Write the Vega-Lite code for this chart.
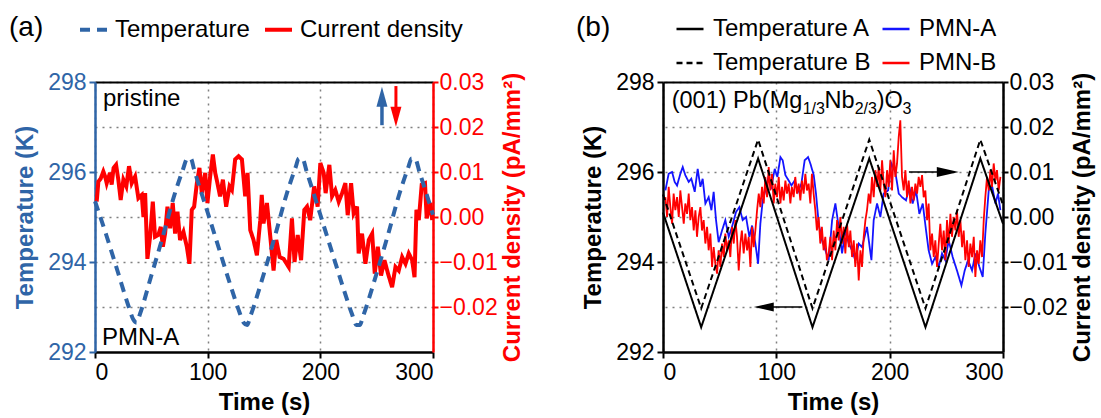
{
  "$schema": "https://vega.github.io/schema/vega-lite/v6.json",
  "padding": {"left": 9, "top": 14, "right": 4, "bottom": 2},
  "autosize": {"type": "pad"},
  "config": {
    "font": "Liberation Sans",
    "view": {"stroke": null},
    "axis": {"labelFontSize": 23, "titleFontSize": 24, "titleFontWeight": "bold", "labelColor": "black", "titleColor": "black", "domainColor": "black", "tickColor": "black", "domainWidth": 2.5, "tickWidth": 2, "tickSize": 6, "labelPadding": 3, "grid": false, "gridColor": "#808080", "gridDash": [2, 5], "gridWidth": 1.5},
    "legend": {"labelFontSize": 24, "labelColor": "black", "titleFontSize": 28, "titleFontWeight": "normal", "titleColor": "black", "labelLimit": 400}
  },
  "spacing": 51,
  "resolve": {"scale": {"color": "independent", "strokeDash": "independent"}, "legend": {"color": "independent", "strokeDash": "independent"}},
  "datasets": {
    "curA": [{"t":1.5,"c":0.0034},{"t":3,"c":0.0079},{"t":5,"c":0.0085},{"t":7.4,"c":0.0101},{"t":9,"c":0.009},{"t":10.4,"c":0.0075},{"t":12,"c":0.0088},{"t":13.3,"c":0.0098},{"t":14.8,"c":0.0072},{"t":16.5,"c":0.0109},{"t":18.7,"c":0.0116},{"t":20.7,"c":0.0083},{"t":22.8,"c":0.0038},{"t":25.2,"c":0.0083},{"t":27.8,"c":0.0068},{"t":30.2,"c":0.0113},{"t":32.6,"c":0.0075},{"t":35.6,"c":0.009},{"t":38.5,"c":0.0042},{"t":41.5,"c":0.0049},{"t":43,"c":0.0},{"t":44.5,"c":0.0053},{"t":46.5,"c":-0.0093},{"t":48.9,"c":-0.0044},{"t":51.3,"c":0.0034},{"t":53.3,"c":-0.0044},{"t":56.2,"c":-0.004},{"t":58.4,"c":-0.0022},{"t":60.2,"c":-0.0066},{"t":62.2,"c":-0.0037},{"t":64.3,"c":0.0023},{"t":66.7,"c":-0.0025},{"t":69,"c":0.0031},{"t":71.1,"c":-0.0037},{"t":73.2,"c":0.0012},{"t":75.5,"c":-0.0051},{"t":78.5,"c":-0.0033},{"t":81.5,"c":-0.0066},{"t":83.8,"c":-0.0104},{"t":85.9,"c":0.0016},{"t":88,"c":0.0023},{"t":90.4,"c":0.0075},{"t":92.7,"c":0.0109},{"t":94.8,"c":0.0053},{"t":97.8,"c":0.0098},{"t":99.8,"c":0.0031},{"t":102.2,"c":0.009},{"t":104.6,"c":0.0139},{"t":106.7,"c":0.0098},{"t":108.7,"c":0.0075},{"t":111,"c":0.0046},{"t":113.5,"c":0.0083},{"t":116.4,"c":0.0023},{"t":119.4,"c":0.0068},{"t":121.5,"c":0.006},{"t":124.4,"c":0.0128},{"t":127.4,"c":0.0135},{"t":130.4,"c":0.0128},{"t":133.3,"c":0.0046},{"t":135.4,"c":0.0098},{"t":137.8,"c":-0.0029},{"t":140.7,"c":-0.0051},{"t":143.7,"c":-0.0085},{"t":146.7,"c":-0.0007},{"t":148,"c":0.0049},{"t":149.6,"c":-0.0014},{"t":152.6,"c":0.0031},{"t":155,"c":-0.0029},{"t":158.5,"c":-0.0119},{"t":160.9,"c":-0.0051},{"t":163.9,"c":-0.0089},{"t":167.4,"c":-0.0093},{"t":171.9,"c":-0.0111},{"t":174.8,"c":-0.0003},{"t":177.1,"c":-0.01},{"t":179.9,"c":-0.004},{"t":182.9,"c":-0.0096},{"t":185.8,"c":0.0016},{"t":188.2,"c":0.0023},{"t":191,"c":-0.0007},{"t":194.5,"c":0.0068},{"t":197.6,"c":0.0023},{"t":200,"c":0.012},{"t":203,"c":0.0098},{"t":204.7,"c":0.0053},{"t":208,"c":0.0116},{"t":210.4,"c":0.0046},{"t":213.3,"c":0.006},{"t":216.3,"c":0.0034},{"t":219.3,"c":0.0053},{"t":222.2,"c":0.0075},{"t":224.3,"c":0.0004},{"t":227.3,"c":0.0075},{"t":229.6,"c":0.0008},{"t":232.6,"c":0.0023},{"t":234,"c":-0.0081},{"t":237,"c":-0.0037},{"t":240,"c":-0.0104},{"t":243,"c":-0.0051},{"t":246,"c":-0.0037},{"t":248.3,"c":-0.0126},{"t":251,"c":-0.0066},{"t":253.9,"c":-0.013},{"t":256.9,"c":-0.0096},{"t":260.1,"c":-0.0126},{"t":263.7,"c":-0.0156},{"t":266.7,"c":-0.0111},{"t":269.6,"c":-0.0119},{"t":272.6,"c":-0.0089},{"t":275.6,"c":-0.0104},{"t":278.5,"c":-0.0081},{"t":281.5,"c":-0.0096},{"t":283.6,"c":-0.0134},{"t":285.3,"c":0.0016},{"t":287.4,"c":-0.0007},{"t":290,"c":0.0072},{"t":292.9,"c":0.0075},{"t":294.4,"c":-0.0003},{"t":297.8,"c":0.0031},{"t":299.3,"c":-0.0007}],
    "tempA": [{"t":0,"T":295.35},{"t":10,"T":294.6},{"t":20,"T":293.8},{"t":30,"T":293.0},{"t":34,"T":292.72},{"t":37,"T":292.65},{"t":40,"T":292.85},{"t":50,"T":293.7},{"t":60,"T":294.55},{"t":70,"T":295.45},{"t":78,"T":296.05},{"t":82,"T":296.3},{"t":85,"T":296.3},{"t":88,"T":296.05},{"t":100,"T":295.1},{"t":110,"T":294.3},{"t":120,"T":293.5},{"t":128,"T":292.9},{"t":132,"T":292.65},{"t":135,"T":292.6},{"t":138,"T":292.8},{"t":150,"T":293.75},{"t":160,"T":294.6},{"t":170,"T":295.5},{"t":178,"T":296.1},{"t":181,"T":296.3},{"t":184,"T":296.3},{"t":188,"T":296.0},{"t":200,"T":295.05},{"t":210,"T":294.25},{"t":220,"T":293.45},{"t":228,"T":292.85},{"t":232,"T":292.6},{"t":235,"T":292.6},{"t":238,"T":292.8},{"t":250,"T":293.75},{"t":260,"T":294.6},{"t":270,"T":295.5},{"t":278,"T":296.1},{"t":281,"T":296.3},{"t":284,"T":296.3},{"t":288,"T":296.0},{"t":300,"T":295.05}],
    "tempBA": [{"t":0,"T":295.1},{"t":33.7,"T":292.55},{"t":83.9,"T":296.3},{"t":131.9,"T":292.55},{"t":182,"T":296.3},{"t":231.6,"T":292.55},{"t":280,"T":296.3},{"t":300,"T":294.85}],
    "tempBB": [{"t":0,"T":295.5},{"t":33.7,"T":292.97},{"t":83.9,"T":296.72},{"t":131.9,"T":292.97},{"t":182,"T":296.72},{"t":231.6,"T":292.97},{"t":280,"T":296.72},{"t":300,"T":295.27}],
    "blueB": [{"t":2.1,"c":0.0059},{"t":5,"c":0.0096},{"t":8,"c":0.01},{"t":10.3,"c":0.0078},{"t":12.4,"c":0.007},{"t":15.3,"c":0.0096},{"t":17.4,"c":0.0111},{"t":19.7,"c":0.0093},{"t":22.7,"c":0.0078},{"t":25,"c":0.0085},{"t":28,"c":0.0056},{"t":30.6,"c":0.0107},{"t":33,"c":0.0067},{"t":35,"c":0.0085},{"t":37.4,"c":0.003},{"t":40.3,"c":0.0044},{"t":42.7,"c":0.0015},{"t":44.7,"c":0.0056},{"t":46.8,"c":-0.0007},{"t":49.1,"c":-0.0056},{"t":52.1,"c":-0.003},{"t":55,"c":-0.0007},{"t":58,"c":-0.0044},{"t":60.9,"c":-0.0022},{"t":64.4,"c":0.0011},{"t":67.4,"c":0.0022},{"t":70.3,"c":-0.0007},{"t":73.3,"c":0.0},{"t":76.2,"c":-0.0044},{"t":78.6,"c":-0.0019},{"t":81.5,"c":-0.0059},{"t":83.9,"c":-0.0104},{"t":85.9,"c":-0.0015},{"t":88,"c":0.0037},{"t":90.3,"c":0.0059},{"t":92.7,"c":0.0085},{"t":95.6,"c":0.0067},{"t":98.6,"c":0.0107},{"t":100.9,"c":0.0089},{"t":103.6,"c":0.0133},{"t":105.6,"c":0.0126},{"t":108,"c":0.0093},{"t":110.9,"c":0.0081},{"t":113.3,"c":0.007},{"t":116.2,"c":0.0081},{"t":119.1,"c":0.0056},{"t":122.1,"c":0.0074},{"t":125,"c":0.0126},{"t":128,"c":0.0133},{"t":130,"c":0.0119},{"t":133,"c":0.0093},{"t":135,"c":0.0052},{"t":137.4,"c":-0.0015},{"t":140.3,"c":-0.0052},{"t":143.3,"c":-0.0074},{"t":146.2,"c":-0.0096},{"t":149.2,"c":-0.0007},{"t":152.1,"c":0.003},{"t":155,"c":-0.0022},{"t":158,"c":-0.0081},{"t":160.9,"c":-0.003},{"t":163.9,"c":-0.0059},{"t":166.8,"c":-0.0074},{"t":169.7,"c":-0.0096},{"t":172.7,"c":-0.0059},{"t":175.6,"c":-0.0067},{"t":180,"c":-0.0022},{"t":183.9,"c":-0.0096},{"t":185.9,"c":-0.0007},{"t":188.9,"c":0.003},{"t":191.8,"c":0.0},{"t":194.7,"c":0.0052},{"t":198.6,"c":0.0059},{"t":201.5,"c":0.0119},{"t":205,"c":0.01},{"t":208,"c":0.0052},{"t":210.9,"c":0.0044},{"t":214.4,"c":0.0037},{"t":217.4,"c":0.0067},{"t":220.3,"c":0.003},{"t":223.3,"c":0.0059},{"t":226.2,"c":0.0007},{"t":229.2,"c":0.003},{"t":232.1,"c":-0.003},{"t":234.4,"c":-0.0074},{"t":237.4,"c":-0.0104},{"t":240.3,"c":-0.0089},{"t":243.3,"c":-0.0111},{"t":246.2,"c":-0.0081},{"t":249.1,"c":-0.0096},{"t":252.1,"c":-0.0052},{"t":255.6,"c":-0.0089},{"t":259.4,"c":-0.0119},{"t":263.3,"c":-0.0152},{"t":266.2,"c":-0.0119},{"t":269.2,"c":-0.0096},{"t":272.7,"c":-0.0119},{"t":275.6,"c":-0.0081},{"t":279.2,"c":-0.0111},{"t":282.1,"c":-0.0133},{"t":284.4,"c":-0.0037},{"t":287.4,"c":0.0059},{"t":290.3,"c":0.007},{"t":293.3,"c":0.003},{"t":295.6,"c":0.0052},{"t":297.7,"c":0.0015}],
    "redB": [{"t":2.1,"c":0.0044},{"t":3.6,"c":0.0},{"t":5,"c":0.0067},{"t":6.5,"c":0.0022},{"t":8,"c":-0.0015},{"t":9.4,"c":0.0052},{"t":10.9,"c":0.0015},{"t":12.4,"c":0.0044},{"t":13.9,"c":0.0},{"t":15.3,"c":0.0059},{"t":16.8,"c":0.0022},{"t":18.3,"c":-0.0015},{"t":19.7,"c":0.003},{"t":21.2,"c":0.0007},{"t":22.7,"c":0.0052},{"t":24.1,"c":-0.0007},{"t":25.6,"c":0.0022},{"t":27.1,"c":-0.003},{"t":28.6,"c":0.0015},{"t":30,"c":-0.0044},{"t":31.5,"c":0.0},{"t":33,"c":0.0022},{"t":34.4,"c":-0.003},{"t":35.9,"c":-0.0007},{"t":37.4,"c":-0.0059},{"t":38.9,"c":-0.0022},{"t":40.3,"c":-0.0074},{"t":41.8,"c":-0.0037},{"t":43.3,"c":-0.0111},{"t":44.7,"c":-0.0067},{"t":46.2,"c":-0.0104},{"t":47.7,"c":-0.0126},{"t":49.1,"c":-0.0074},{"t":50.6,"c":-0.0111},{"t":52.1,"c":-0.0059},{"t":53.6,"c":-0.0089},{"t":55,"c":-0.0037},{"t":56.5,"c":-0.0074},{"t":58,"c":-0.0052},{"t":59.4,"c":-0.0089},{"t":60.9,"c":-0.0022},{"t":62.4,"c":-0.0059},{"t":63.9,"c":-0.0007},{"t":65.3,"c":-0.0044},{"t":66.8,"c":-0.0119},{"t":68.3,"c":-0.0059},{"t":69.6,"c":-0.003},{"t":71.2,"c":-0.0081},{"t":72.7,"c":-0.0037},{"t":74.2,"c":-0.0074},{"t":75.6,"c":-0.0044},{"t":77.1,"c":-0.0111},{"t":78.6,"c":-0.0022},{"t":80,"c":-0.0067},{"t":81.5,"c":-0.003},{"t":83,"c":0.0015},{"t":84.5,"c":0.0052},{"t":85.9,"c":0.0022},{"t":87.4,"c":0.0067},{"t":88.9,"c":0.003},{"t":90.3,"c":0.0089},{"t":91.8,"c":0.0044},{"t":93.3,"c":0.0111},{"t":94.7,"c":0.0059},{"t":96.2,"c":0.0096},{"t":97.7,"c":0.003},{"t":99.1,"c":0.0074},{"t":100.6,"c":0.0044},{"t":102.1,"c":0.0089},{"t":103.6,"c":0.003},{"t":105,"c":0.0067},{"t":106.5,"c":0.0037},{"t":108,"c":0.0081},{"t":109.4,"c":0.0052},{"t":110.9,"c":0.0074},{"t":112.4,"c":0.003},{"t":113.7,"c":0.0067},{"t":115.3,"c":0.0044},{"t":116.7,"c":0.0089},{"t":118.2,"c":0.0052},{"t":119.7,"c":0.0074},{"t":121.2,"c":0.0037},{"t":122.6,"c":0.0081},{"t":124.1,"c":0.0052},{"t":125.6,"c":0.0096},{"t":127,"c":0.0059},{"t":128.5,"c":0.0074},{"t":130,"c":0.003},{"t":131.4,"c":0.0096},{"t":132.9,"c":0.0052},{"t":134.4,"c":0.0015},{"t":135.8,"c":-0.003},{"t":137.3,"c":0.0},{"t":138.8,"c":-0.0059},{"t":140.2,"c":-0.0022},{"t":141.7,"c":-0.0074},{"t":143.2,"c":-0.0044},{"t":144.6,"c":-0.0096},{"t":146.2,"c":-0.0081},{"t":147.7,"c":-0.0044},{"t":149.2,"c":-0.0096},{"t":150.6,"c":-0.003},{"t":152.1,"c":-0.0074},{"t":153.6,"c":-0.0007},{"t":155,"c":-0.0052},{"t":156.5,"c":0.0},{"t":158,"c":-0.0059},{"t":159.4,"c":-0.0022},{"t":160.9,"c":-0.0081},{"t":162.4,"c":-0.0015},{"t":163.9,"c":-0.0067},{"t":165.3,"c":-0.003},{"t":166.8,"c":-0.0089},{"t":168.3,"c":-0.0052},{"t":169.7,"c":-0.0111},{"t":171.2,"c":-0.0059},{"t":172.7,"c":-0.0141},{"t":174.2,"c":-0.0074},{"t":175.6,"c":-0.0111},{"t":177.1,"c":-0.0044},{"t":178.6,"c":-0.0007},{"t":180,"c":0.0015},{"t":181.5,"c":0.0052},{"t":183,"c":0.003},{"t":184.4,"c":0.0089},{"t":185.9,"c":0.0044},{"t":187.4,"c":0.0104},{"t":188.9,"c":0.0067},{"t":190.3,"c":0.0111},{"t":191.8,"c":0.0059},{"t":193.3,"c":0.0126},{"t":194.7,"c":0.0074},{"t":196.2,"c":0.0044},{"t":197.7,"c":0.0104},{"t":199.1,"c":0.0067},{"t":200.6,"c":0.0126},{"t":202.1,"c":0.0059},{"t":203.6,"c":0.0148},{"t":205,"c":0.0089},{"t":206.5,"c":0.0119},{"t":208,"c":0.0178},{"t":209.4,"c":0.0215},{"t":210.9,"c":0.0089},{"t":212.4,"c":0.0059},{"t":213.9,"c":0.0104},{"t":215.3,"c":0.0044},{"t":216.8,"c":0.0081},{"t":218.3,"c":0.003},{"t":219.7,"c":0.0067},{"t":221.2,"c":0.0037},{"t":222.7,"c":0.0074},{"t":224.2,"c":0.0052},{"t":225.6,"c":0.0089},{"t":227.1,"c":0.0067},{"t":228.6,"c":0.0093},{"t":230,"c":0.0044},{"t":231.5,"c":0.0059},{"t":233,"c":-0.0007},{"t":234.4,"c":0.003},{"t":235.9,"c":-0.0074},{"t":237.4,"c":-0.0037},{"t":238.9,"c":-0.0089},{"t":240.3,"c":-0.0052},{"t":241.8,"c":-0.0111},{"t":243.3,"c":-0.0059},{"t":244.7,"c":-0.0015},{"t":246.2,"c":-0.0074},{"t":247.7,"c":-0.003},{"t":249.1,"c":-0.0096},{"t":250.6,"c":-0.0007},{"t":252.1,"c":-0.0059},{"t":253.6,"c":0.0007},{"t":255,"c":-0.0044},{"t":256.5,"c":0.0},{"t":258,"c":-0.003},{"t":259.4,"c":0.0015},{"t":260.9,"c":-0.0044},{"t":262.4,"c":-0.0007},{"t":263.9,"c":-0.0067},{"t":265.3,"c":-0.003},{"t":266.8,"c":-0.0096},{"t":268.3,"c":-0.0052},{"t":269.7,"c":-0.0111},{"t":271.2,"c":-0.0059},{"t":272.7,"c":-0.0089},{"t":274.2,"c":-0.0044},{"t":275.6,"c":-0.0133},{"t":277.1,"c":-0.0074},{"t":278.6,"c":-0.0104},{"t":280,"c":-0.0052},{"t":281.5,"c":-0.0089},{"t":283,"c":-0.0007},{"t":284.4,"c":0.0044},{"t":285.9,"c":0.0089},{"t":287.4,"c":0.0059},{"t":288.9,"c":0.0104},{"t":290.3,"c":0.0067},{"t":291.8,"c":0.0119},{"t":293.3,"c":0.0081},{"t":294.7,"c":0.0104},{"t":296.2,"c":0.0059},{"t":297.7,"c":0.0089}]
  },
  "hconcat": [
    {
      "width": 338,
      "height": 270,
      "resolve": {"scale": {"y": "independent"}, "axis": {"x": "independent"}},
      "layer": [
        {
          "encoding": {
            "x": {"field": "t", "type": "quantitative", "scale": {"domain": [0, 300], "nice": false}, "axis": {"orient": "top", "labels": false, "ticks": false, "title": null, "grid": false, "domainWidth": 2}},
            "y": {"field": "c", "type": "quantitative", "scale": {"domain": [-0.03, 0.03], "nice": false, "zero": false}, "axis": {"orient": "right", "values": [-0.02, -0.01, 0, 0.01, 0.02, 0.03], "format": ".2f", "title": "Current density (pA/mm²)", "titleAngle": 270, "titleBaseline": "top", "titlePadding": 3, "grid": true, "labelColor": "#FF0000", "titleColor": "#FF0000", "domainColor": "#FF0000", "tickColor": "#FF0000", "tickSize": 5, "labelPadding": 1}}
          },
          "layer": [
            {"data": {"name": "curA"}, "mark": {"type": "line", "strokeWidth": 4, "strokeJoin": "miter"},
             "encoding": {
               "color": {"datum": "Current density", "scale": {"domain": ["Temperature", "Current density"], "range": ["#2F65A7", "#FF0000"]}, "legend": {"orient": "none", "legendX": -86, "legendY": -68, "direction": "horizontal", "columns": 2, "title": "(a)", "titleOrient": "left", "titleAnchor": "start", "titlePadding": 34, "symbolType": "stroke", "symbolSize": 729, "symbolStrokeWidth": 4, "labelOffset": 6, "columnPadding": 7}},
               "strokeDash": {"datum": "Current density", "scale": {"domain": ["Temperature", "Current density"], "range": [[10, 7], [1, 0]]}, "legend": {"orient": "none", "legendX": -86, "legendY": -68, "direction": "horizontal", "columns": 2, "title": "(a)", "titleOrient": "left", "titleAnchor": "start", "titlePadding": 34, "symbolType": "stroke", "symbolSize": 729, "symbolStrokeWidth": 4, "labelOffset": 6, "columnPadding": 7}}
             }},
            {"data": {"values": [{"t": 7.1, "c": 0.0247, "label": "pristine"}]}, "mark": {"type": "text", "align": "left", "baseline": "alphabetic", "fontSize": 24, "color": "black"}, "encoding": {"text": {"field": "label"}}},
            {"data": {"values": [{"t": 254.7, "c": 0.0204, "c2": 0.0252}]}, "mark": {"type": "rule", "color": "#2F65A7", "strokeWidth": 3.5}, "encoding": {"y2": {"field": "c2"}}},
            {"data": {"values": [{"t": 254.7, "c": 0.0267}]}, "mark": {"type": "point", "filled": true, "opacity": 1, "color": "#2F65A7", "shape": "M0,-1L0.55,1L-0.55,1Z", "size": 400}},
            {"data": {"values": [{"t": 267.1, "c": 0.0291, "c2": 0.0242}]}, "mark": {"type": "rule", "color": "#FF0000", "strokeWidth": 3}, "encoding": {"y2": {"field": "c2"}}},
            {"data": {"values": [{"t": 267.1, "c": 0.0223}]}, "mark": {"type": "point", "filled": true, "opacity": 1, "color": "#FF0000", "shape": "M0,1L0.55,-1L-0.55,-1Z", "size": 400}}
          ]
        },
        {
          "encoding": {
            "x": {"field": "t", "type": "quantitative", "scale": {"domain": [0, 300], "nice": false}, "axis": {"orient": "bottom", "values": [0, 100, 200, 300], "title": "Time (s)", "grid": true, "titlePadding": 6}},
            "y": {"field": "T", "type": "quantitative", "scale": {"domain": [292, 298], "nice": false, "zero": false}, "axis": {"orient": "left", "values": [292, 294, 296, 298], "title": "Temperature (K)", "titlePadding": 10, "labelColor": "#2F65A7", "titleColor": "#2F65A7", "domainColor": "#2F65A7", "tickColor": "#2F65A7"}}
          },
          "layer": [
            {"data": {"name": "tempA"}, "mark": {"type": "line", "strokeWidth": 4, "interpolate": "monotone"},
             "encoding": {
               "color": {"datum": "Temperature", "scale": {"domain": ["Temperature", "Current density"], "range": ["#2F65A7", "#FF0000"]}},
               "strokeDash": {"datum": "Temperature", "scale": {"domain": ["Temperature", "Current density"], "range": [[10, 7], [1, 0]]}}
             }},
            {"data": {"values": [{"t": 6.2, "T": 292.16, "label": "PMN-A"}]}, "mark": {"type": "text", "align": "left", "baseline": "alphabetic", "fontSize": 24, "color": "black"}, "encoding": {"text": {"field": "label"}}}
          ]
        }
      ]
    },
    {
      "width": 340,
      "height": 270,
      "resolve": {"scale": {"y": "independent"}, "axis": {"x": "independent"}},
      "layer": [
        {
          "encoding": {
            "x": {"field": "t", "type": "quantitative", "scale": {"domain": [0, 300], "nice": false}, "axis": {"orient": "top", "labels": false, "ticks": false, "title": null, "grid": false, "domainWidth": 2}},
            "y": {"field": "c", "type": "quantitative", "scale": {"domain": [-0.03, 0.03], "nice": false, "zero": false}, "axis": {"orient": "right", "values": [-0.02, -0.01, 0, 0.01, 0.02, 0.03], "format": ".2f", "title": "Current density (pA/mm²)", "titleAngle": 270, "titleBaseline": "top", "titlePadding": 3, "grid": true, "tickSize": 5, "labelPadding": 1}}
          },
          "layer": [
            {"data": {"name": "blueB"}, "mark": {"type": "line", "strokeWidth": 1.8},
             "encoding": {
               "color": {"datum": "PMN-A", "scale": {"domain": ["Temperature A", "PMN-A", "Temperature B", "PMN-B"], "range": ["#000000", "#1414FF", "#000000", "#FF0000"]}, "legend": {"orient": "none", "legendX": -87, "legendY": -68, "direction": "horizontal", "columns": 2, "title": "(b)", "titleOrient": "left", "titleAnchor": "start", "titlePadding": 64, "symbolType": "stroke", "symbolSize": 729, "symbolStrokeWidth": 2.5, "labelOffset": 8, "columnPadding": 6, "rowPadding": 7}},
               "strokeDash": {"datum": "PMN-A", "scale": {"domain": ["Temperature A", "PMN-A", "Temperature B", "PMN-B"], "range": [[1, 0], [1, 0], [6, 4], [1, 0]]}, "legend": {"orient": "none", "legendX": -87, "legendY": -68, "direction": "horizontal", "columns": 2, "title": "(b)", "titleOrient": "left", "titleAnchor": "start", "titlePadding": 64, "symbolType": "stroke", "symbolSize": 729, "symbolStrokeWidth": 2.5, "labelOffset": 8, "columnPadding": 6, "rowPadding": 7}}
             }},
            {"data": {"name": "redB"}, "mark": {"type": "line", "strokeWidth": 1.8},
             "encoding": {
               "color": {"datum": "PMN-B", "scale": {"domain": ["Temperature A", "PMN-A", "Temperature B", "PMN-B"], "range": ["#000000", "#1414FF", "#000000", "#FF0000"]}},
               "strokeDash": {"datum": "PMN-B", "scale": {"domain": ["Temperature A", "PMN-A", "Temperature B", "PMN-B"], "range": [[1, 0], [1, 0], [6, 4], [1, 0]]}}
             }},
            {"data": {"values": [{"t": 7.7, "c": 0.0242, "label": "(001) Pb(Mg"}, {"t": 142.6, "c": 0.0242, "label": "Nb"}, {"t": 188.5, "c": 0.0242, "label": ")O"}]}, "mark": {"type": "text", "align": "left", "baseline": "alphabetic", "fontSize": 23.5, "color": "black"}, "encoding": {"text": {"field": "label"}}},
            {"data": {"values": [{"t": 123.2, "c": 0.0229, "label": "1/3"}, {"t": 169.1, "c": 0.0229, "label": "2/3"}, {"t": 211.4, "c": 0.0229, "label": "3"}]}, "mark": {"type": "text", "align": "left", "baseline": "alphabetic", "fontSize": 16, "color": "black"}, "encoding": {"text": {"field": "label"}}},
            {"data": {"values": [{"t": 217, "c": 0.01, "t2": 247}]}, "mark": {"type": "rule", "color": "black", "strokeWidth": 1.6}, "encoding": {"x2": {"field": "t2"}}},
            {"data": {"values": [{"t": 251.3, "c": 0.01}]}, "mark": {"type": "point", "filled": true, "opacity": 1, "color": "black", "shape": "M1,0L-1,-0.45L-1,0.45Z", "size": 484}}
          ]
        },
        {
          "encoding": {
            "x": {"field": "t", "type": "quantitative", "scale": {"domain": [0, 300], "nice": false}, "axis": {"orient": "bottom", "values": [0, 100, 200, 300], "title": "Time (s)", "grid": true, "titlePadding": 6}},
            "y": {"field": "T", "type": "quantitative", "scale": {"domain": [292, 298], "nice": false, "zero": false}, "axis": {"orient": "left", "values": [292, 294, 296, 298], "title": "Temperature (K)", "titlePadding": 10}}
          },
          "layer": [
            {"data": {"name": "tempBA"}, "mark": {"type": "line", "strokeWidth": 2},
             "encoding": {
               "color": {"datum": "Temperature A", "scale": {"domain": ["Temperature A", "PMN-A", "Temperature B", "PMN-B"], "range": ["#000000", "#1414FF", "#000000", "#FF0000"]}},
               "strokeDash": {"datum": "Temperature A", "scale": {"domain": ["Temperature A", "PMN-A", "Temperature B", "PMN-B"], "range": [[1, 0], [1, 0], [6, 4], [1, 0]]}}
             }},
            {"data": {"name": "tempBB"}, "mark": {"type": "line", "strokeWidth": 2},
             "encoding": {
               "color": {"datum": "Temperature B", "scale": {"domain": ["Temperature A", "PMN-A", "Temperature B", "PMN-B"], "range": ["#000000", "#1414FF", "#000000", "#FF0000"]}},
               "strokeDash": {"datum": "Temperature B", "scale": {"domain": ["Temperature A", "PMN-A", "Temperature B", "PMN-B"], "range": [[1, 0], [1, 0], [6, 4], [1, 0]]}}
             }},
            {"data": {"values": [{"t": 92, "T": 293, "t2": 123}]}, "mark": {"type": "rule", "color": "black", "strokeWidth": 1.6}, "encoding": {"x2": {"field": "t2"}}},
            {"data": {"values": [{"t": 88.9, "T": 293}]}, "mark": {"type": "point", "filled": true, "opacity": 1, "color": "black", "shape": "M-1,0L1,-0.45L1,0.45Z", "size": 400}}
          ]
        }
      ]
    }
  ]
}
